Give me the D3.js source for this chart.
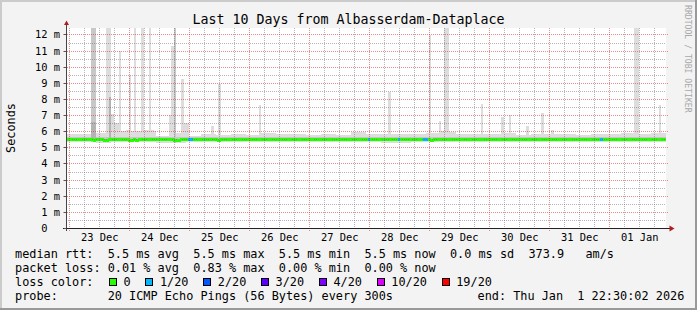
<!DOCTYPE html>
<html><head><meta charset="utf-8">
<script src="https://cdn.jsdelivr.net/npm/d3@7"></script>
<style>
html,body{margin:0;padding:0;background:#f3f3f3;}
svg{display:block;}
text{font-family:"DejaVu Sans Mono",monospace;white-space:pre;}
</style></head><body>
<svg id="chart" width="697" height="310"></svg>
<script>
// ---------------- data ----------------
const title = "Last 10 Days from Albasserdam-Dataplace";
const yAxisTitle = "Seconds";
const watermark = "RRDTOOL / TOBI OETIKER";
const endTime = "2026-01-01T22:30:02Z";
const spanDays = 10;
const yMax = 12.4; // ms
const yTickValues = [0,1,2,3,4,5,6,7,8,9,10,11,12];
const yTickLabels = ["0  ","1 m","2 m","3 m","4 m","5 m","6 m","7 m","8 m","9 m","10 m","11 m","12 m"];
const xTickLabels = ["23 Dec","24 Dec","25 Dec","26 Dec","27 Dec","28 Dec","29 Dec","30 Dec","31 Dec","01 Jan"];
// upper edge of the smoke band, one value per 6 hours (ms)
const baseTop = [5.8,5.8,5.9,6.0,6.0,6.1,5.7,5.9,5.7,5.8,
                 5.75,5.8,5.75,5.9,5.85,5.85,5.75,5.85,5.75,5.95,
                 5.8,5.8,5.85,5.8,5.9,5.95,5.8,5.8,5.85,5.9,
                 5.75,5.8,5.85,5.85,5.75,5.8,5.8,5.9,5.85,5.9];
// lower edge of the smoke band, one value per 6 hours (ms)
const baseBottom = [5.35,5.33,5.3,5.32,5.35,5.35,5.3,5.3,5.35,5.35,
                    5.35,5.35,5.35,5.35,5.32,5.35,5.35,5.35,5.35,5.35,
                    5.35,5.3,5.3,5.33,5.35,5.35,5.35,5.35,5.35,5.35,
                    5.35,5.35,5.35,5.35,5.32,5.35,5.35,5.33,5.35,5.33];
// hourly columns where the max ping rises above the band: [hour, max ms, darker]
const spikes = [[10,12.4,1],[11,12.4,1],[16,12.4,0],[17,12.4,0],[18,7.05,0],[19,6.5,0],[20,6.5,0],
  [21,11.0,0],[24,6.1,0],[25,9.5,0],[27,12.4,0],[30,12.4,0],[32,6.1,0],[33,12.4,0],[35,6.0,0],
  [41,7.0,0],[42,11.3,0],[43,12.4,1],[46,9.25,0],[47,6.5,0],[48,6.5,0],[58,6.35,0],[61,8.9,0],
  [77,7.6,0],[129,8.45,0],[145,11.95,0],[149,6.65,0],[150,6.0,0],[151,12.4,0],[152,12.4,0],
  [166,7.7,0],[174,6.9,0],[177,7.0,0],[184,6.3,0],[190,7.15,0],[194,6.1,0],[227,12.4,0],
  [228,12.4,0],[237,7.6,0]];
// denser inner smoke reaching higher: [hour, ms]
const innerSpikes = [[10,6.6],[11,6.6],[17,8.1]];
// median rtt (ms): normal level and hours where it dipped
const medianLevel = 5.5;
const medianDips = [[11,5.45],[15,5.44],[16,5.45],[25,5.44],[26,5.45],[28,5.44],[43,5.45],[44,5.43],
  [45,5.45],[61,5.45],[88,5.46],[126,5.46],[127,5.46],[128,5.46],[130,5.46],[131,5.46],[132,5.46],
  [134,5.46],[146,5.44]];
// hours with packet loss: [hour, lost pings of 20]
const lossEvents = [[49,1],[50,1],[121,1],[133,1],[143,1],[144,1],[214,1]];
const lossLabels = ["0","1/20","2/20","3/20","4/20","10/20","19/20"];
const lossThresholds = [0,1,2,3,4,10,19];
const lossColors = ["#26ff00","#00b8ff","#0059ff","#5e00ff","#7e00ff","#dd00ff","#ff0000"];
const rttStats = [5.5,5.5,5.5,5.5];
const statNames = ["avg","max","min","now"];
const rttSd = 0.0;
const amPerS = 373.9;
const lossStats = [0.01,0.83,0.00,0.00];
const probeText = "20 ICMP Echo Pings (56 Bytes) every 300s";
const endText = "end: Thu Jan  1 22:30:02 2026";

// ---------------- drawing ----------------
const W = 697, H = 310;
const P = {left:66, right:666, top:28, bottom:228};
const svg = d3.select("#chart");
const end = new Date(endTime);
const start = new Date(end.getTime() - spanDays*864e5);
const x = d3.scaleUtc().domain([start,end]).range([P.left,P.right]);
const y = d3.scaleLinear().domain([0,yMax]).range([P.bottom,P.top]);

// background + frame
svg.append("rect").attr("width",W).attr("height",H).attr("fill","#f3f3f3");
svg.append("rect").attr("x",0).attr("y",0).attr("width",W).attr("height",2).attr("fill","#cbcbcb");
svg.append("rect").attr("x",0).attr("y",0).attr("width",2).attr("height",H).attr("fill","#cbcbcb");
svg.append("rect").attr("x",0).attr("y",H-2).attr("width",W).attr("height",2).attr("fill","#999");
svg.append("rect").attr("x",W-2).attr("y",0).attr("width",2).attr("height",H).attr("fill","#999");

// canvas
svg.append("rect").attr("x",P.left).attr("y",P.top).attr("width",P.right-P.left).attr("height",P.bottom-P.top).attr("fill","#fff");

// hourly columns
const nCols = spanDays*24;
const spikeMap = new Map(spikes.map(d=>[d[0],d]));
const innerMap = new Map(innerSpikes);
const dipMap = new Map(medianDips);
const lossMap = new Map(lossEvents);
const cols = d3.range(nCols).map(h=>{
  const t0 = new Date(start.getTime()+h*3600e3), t1 = new Date(start.getTime()+(h+1)*3600e3);
  const s = spikeMap.get(h);
  const k = Math.floor(h/6);
  return {h, t0, t1,
    top: s ? s[1] : baseTop[k], dark: s ? s[2] : 0,
    bottom: baseBottom[k], inner: innerMap.get(h),
    median: dipMap.has(h) ? dipMap.get(h) : medianLevel,
    loss: lossMap.get(h) || 0};
});
const cx0 = d=>Math.round(x(d.t0)), cw = d=>Math.round(x(d.t1))-Math.round(x(d.t0));
const g = svg.append("g").attr("shape-rendering","crispEdges");
g.selectAll("rect.smoke").data(cols).join("rect").attr("class","smoke")
  .attr("x",cx0).attr("width",cw)
  .attr("y",d=>y(Math.min(d.top,yMax))).attr("height",d=>y(d.bottom)-y(Math.min(d.top,yMax)))
  .attr("fill",d=>d.dark ? "#c8c8c8" : "#dddddd");
g.selectAll("rect.inner").data(cols).join("rect").attr("class","inner")
  .attr("x",cx0).attr("width",cw)
  .attr("y",d=>y(d.inner||5.66)).attr("height",d=>y(5.37)-y(d.inner||5.66))
  .attr("fill",d=>d.inner ? "#b4b4b4" : "#c6c6c6");

// grid (drawn over the smoke, as rrdtool does)
const minorGrid = "rgba(110,110,110,0.5)", majorGrid = "rgba(215,30,30,0.5)";
const gg = svg.append("g").attr("shape-rendering","crispEdges").attr("fill","none");
const yMinor = d3.range(0.5,yMax,1);
gg.selectAll("line.ym").data(yMinor).join("line")
  .attr("x1",P.left).attr("x2",P.right)
  .attr("y1",d=>Math.round(y(d))+0.5).attr("y2",d=>Math.round(y(d))+0.5)
  .attr("stroke",minorGrid).attr("stroke-dasharray","1,1");
const vMinor = d3.utcHour.every(6).range(start,end).filter(d=>d.getUTCHours()!==0);
gg.selectAll("line.xm").data(vMinor).join("line")
  .attr("x1",d=>Math.floor(x(d))+0.5).attr("x2",d=>Math.floor(x(d))+0.5)
  .attr("y1",P.top).attr("y2",P.bottom)
  .attr("stroke",minorGrid).attr("stroke-dasharray","1,1");
gg.selectAll("line.yM").data(yTickValues.slice(1)).join("line")
  .attr("x1",P.left-3).attr("x2",P.right+3)
  .attr("y1",d=>Math.round(y(d))+0.5).attr("y2",d=>Math.round(y(d))+0.5)
  .attr("stroke",majorGrid).attr("stroke-dasharray","1,1");
const days = d3.utcDay.range(start,end);
gg.selectAll("line.xM").data(days).join("line")
  .attr("x1",d=>Math.floor(x(d))+0.5).attr("x2",d=>Math.floor(x(d))+0.5)
  .attr("y1",P.top).attr("y2",P.bottom+3)
  .attr("stroke",majorGrid).attr("stroke-dasharray","1,1");

// median line coloured by loss
const lossColor = l => { let c = lossColors[0]; lossThresholds.forEach((t,i)=>{ if (l>=t && t>0) c = lossColors[i]; }); return c; };
g.selectAll("rect.med").data(cols).join("rect").attr("class","med")
  .attr("x",cx0).attr("width",cw)
  .attr("y",d=>y(d.median)-1.5).attr("height",3)
  .attr("fill",d=>lossColor(d.loss));
svg.append("g").attr("shape-rendering","crispEdges").selectAll("rect").data(cols.slice(1)).join("rect")
  .attr("x",d=>Math.round(x(d.t0))-1).attr("width",1)
  .attr("y",(d,i)=>Math.min(y(d.median),y(cols[i].median))-1.5)
  .attr("height",(d,i)=>Math.abs(y(d.median)-y(cols[i].median))+3)
  .attr("fill",d=>lossColor(d.loss));

// axes
const ax = svg.append("g").attr("shape-rendering","crispEdges");
ax.append("line").attr("x1",P.left-3).attr("x2",P.right+4).attr("y1",P.bottom+0.5).attr("y2",P.bottom+0.5).attr("stroke","#222");
ax.append("line").attr("x1",P.left+0.5).attr("x2",P.left+0.5).attr("y1",P.bottom+3).attr("y2",P.top-4).attr("stroke","#444");
ax.selectAll("line.yt").data(yTickValues).join("line")
  .attr("x1",P.left-2).attr("x2",P.left)
  .attr("y1",d=>Math.round(y(d))+0.5).attr("y2",d=>Math.round(y(d))+0.5).attr("stroke","#555");
svg.append("path").attr("d",`M${P.right+3.5},${P.bottom-2.5}L${P.right+8.5},${P.bottom+0.5}L${P.right+3.5},${P.bottom+3.5}Z`).attr("fill","#b01c1c");
svg.append("path").attr("d",`M${P.left-2},${P.top-3}L${P.left+0.5},${P.top-7.5}L${P.left+3},${P.top-3}Z`).attr("fill","#b01c1c");

// y labels
const axisFont = 10.4, adv = axisFont*0.602;
svg.append("g").selectAll("text").data(yTickValues).join("text")
  .attr("x",(d,i)=>60 - yTickLabels[i].length*adv)
  .attr("y",d=>Math.round(y(d))+4)
  .attr("font-size",axisFont).attr("fill","#000")
  .text((d,i)=>yTickLabels[i]);
// x labels at noon of each day
const noons = days.map(d=>new Date(d.getTime()+12*3600e3));
svg.append("g").selectAll("text").data(noons).join("text")
  .attr("x",d=>x(d)).attr("y",241).attr("text-anchor","middle")
  .attr("font-size",axisFont).attr("fill","#000")
  .text((d,i)=>xTickLabels[i]);

// title, unit, watermark
svg.append("text").attr("x",W/2).attr("y",24).attr("text-anchor","middle").attr("font-size",13.3).text(title);
svg.append("text").attr("transform","translate(15,128) rotate(-90)").attr("text-anchor","middle").attr("font-size",11.85).text(yAxisTitle);
svg.append("text").attr("transform","translate(685,5) rotate(90)").attr("font-size",8.15).attr("fill","#a8a8a8").text(watermark);

// legend
const lf = 11.85, la = lf*0.602, lx = 15;
const fmt1 = d3.format(".1f"), fmt2 = d3.format(".2f");
const row1 = "median rtt:  " + rttStats.map((v,i)=>`${fmt1(v)} ms ${statNames[i]}`).join("  ") + `  ${fmt1(rttSd)} ms sd  ${fmt1(amPerS)}   am/s`;
const row2 = "packet loss: " + lossStats.map((v,i)=>`${fmt2(v)} % ${statNames[i]}`).join("  ");
const leg = svg.append("g").attr("font-size",lf).attr("fill","#000");
leg.append("text").attr("x",lx).attr("y",258).attr("xml:space","preserve").text(row1);
leg.append("text").attr("x",lx).attr("y",272).attr("xml:space","preserve").text(row2);
leg.append("text").attr("x",lx).attr("y",286).attr("xml:space","preserve").text("loss color:");
leg.append("text").attr("x",lx).attr("y",300).attr("xml:space","preserve").text("probe:       " + probeText);
leg.append("text").attr("x",477.5).attr("y",300).attr("xml:space","preserve").text(endText);
let bx = 109;
lossLabels.forEach((lab,i)=>{
  leg.append("rect").attr("x",bx+0.5).attr("y",278.5).attr("width",7).attr("height",7)
    .attr("fill",lossColors[i]).attr("stroke","#000").attr("shape-rendering","crispEdges");
  leg.append("text").attr("x",bx+14.5).attr("y",286).text(lab);
  bx = bx + 14.5 + lab.length*la + 14.8;
});
</script>
</body></html>
